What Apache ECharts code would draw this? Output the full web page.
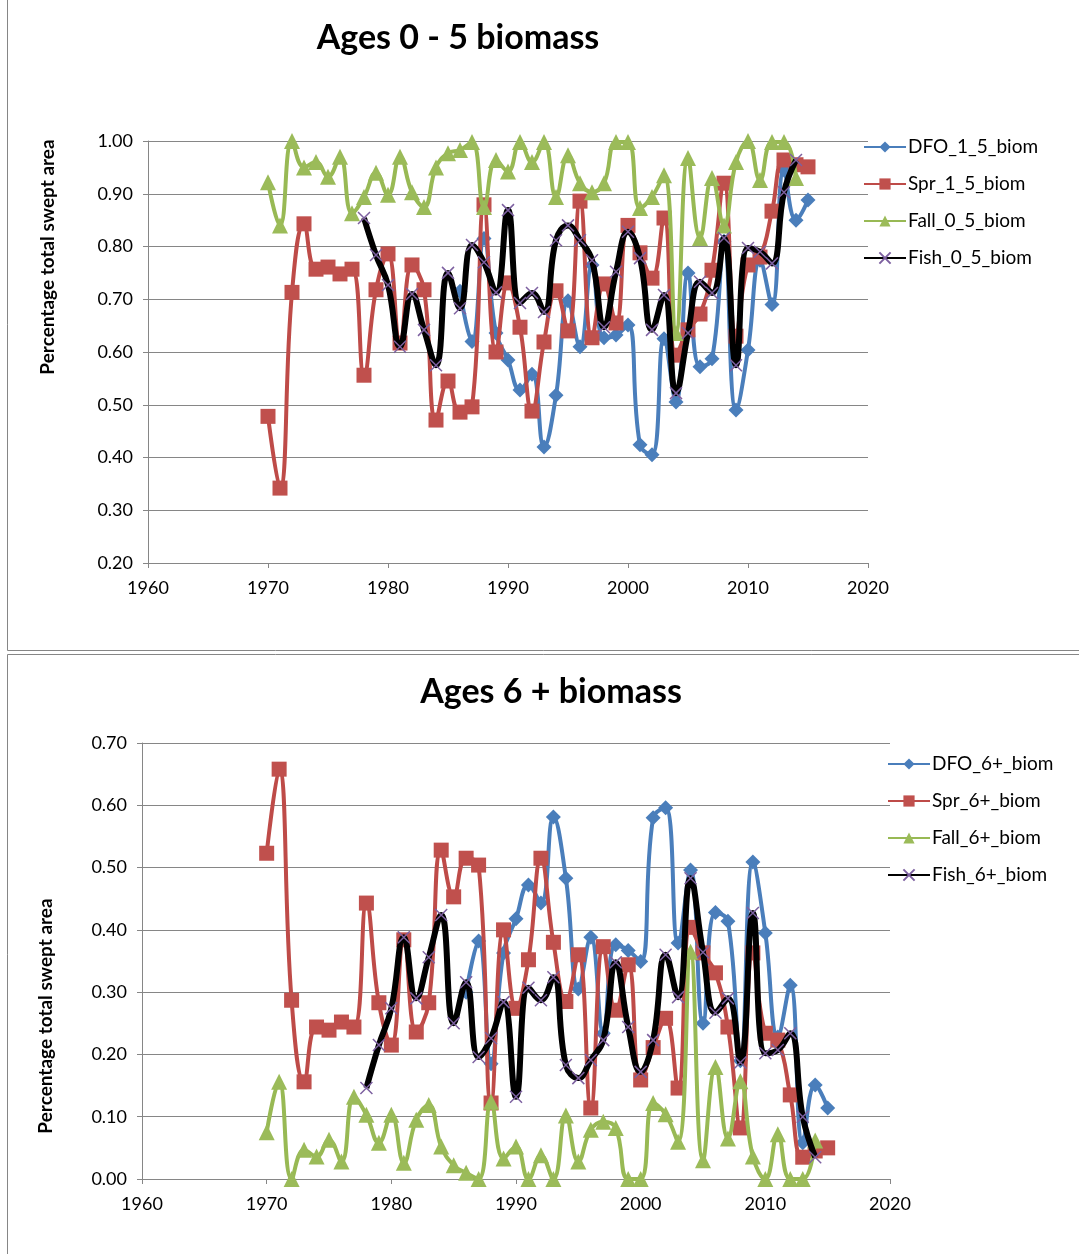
<!DOCTYPE html>
<html><head><meta charset="utf-8">
<script src="https://cdn.jsdelivr.net/npm/echarts@6/dist/echarts.min.js"></script>
<style>html,body{margin:0;padding:0;background:#fff}#c{width:1079px;height:1254px}</style>
</head><body><div id="c"></div>
<script>
const years = [];
for (let y = 1970; y <= 2015; y++) years.push(y);
const xTicks = [1960, 1970, 1980, 1990, 2000, 2010, 2020];

// Top chart: Ages 0 - 5 biomass
const dfo_1_5 = [null,null,null,null,null,null,null,null,null,null,
  null,null,null,null,null,null,0.715,0.62,0.815,0.636,
  0.585,0.528,0.558,0.42,0.518,0.697,0.61,0.765,0.627,0.632,
  0.651,0.424,0.405,0.625,0.505,0.75,0.572,0.587,0.81,0.49,
  0.604,0.774,0.69,0.945,0.85,0.888];
const spr_1_5 = [0.478,0.342,0.713,0.843,0.757,0.761,0.748,0.757,0.556,0.718,
  0.786,0.617,0.765,0.718,0.471,0.545,0.486,0.496,0.879,0.60,
  0.731,0.647,0.488,0.619,0.716,0.64,0.886,0.627,0.729,0.655,
  0.84,0.788,0.74,0.854,0.594,0.642,0.672,0.755,0.92,0.63,
  0.765,0.78,0.867,0.964,0.955,0.951];
const fall_0_5 = [0.922,0.84,1.0,0.95,0.96,0.932,0.97,0.863,0.894,0.94,
  0.898,0.97,0.903,0.875,0.95,0.977,0.983,0.998,0.875,0.964,
  0.942,0.998,0.96,0.998,0.894,0.973,0.92,0.903,0.92,0.998,
  0.998,0.873,0.894,0.935,0.636,0.968,0.816,0.93,0.84,0.96,
  1.0,0.926,0.998,0.998,0.93,null];
const fish_0_5 = [null,null,null,null,null,null,null,null,0.854,0.784,
  0.727,0.61,0.71,0.642,0.575,0.75,0.683,0.803,0.77,0.713,
  0.869,0.693,0.712,0.676,0.812,0.84,0.812,0.774,0.647,0.752,
  0.828,0.778,0.642,0.708,0.522,0.636,0.733,0.712,0.816,0.575,
  0.797,0.79,0.768,0.903,0.964,null];

// Bottom chart: Ages 6 + biomass
const dfo_6 = [null,null,null,null,null,null,null,null,null,null,
  null,null,null,null,null,null,0.30,0.382,0.185,0.363,
  0.418,0.472,0.443,0.581,0.483,0.305,0.388,0.234,0.376,0.367,
  0.349,0.58,0.596,0.379,0.496,0.25,0.428,0.414,0.19,0.509,
  0.395,0.228,0.311,0.058,0.151,0.114];
const spr_6 = [0.523,0.658,0.287,0.156,0.244,0.239,0.252,0.244,0.443,0.283,
  0.215,0.384,0.236,0.283,0.528,0.453,0.515,0.504,0.122,0.40,
  0.274,0.352,0.515,0.38,0.285,0.36,0.114,0.373,0.271,0.344,
  0.159,0.211,0.258,0.146,0.404,0.363,0.331,0.244,0.082,0.363,
  0.234,0.223,0.135,0.035,0.045,0.05];
const fall_6 = [0.075,0.156,0.0,0.047,0.036,0.063,0.028,0.132,0.103,0.058,
  0.103,0.026,0.095,0.119,0.052,0.022,0.01,0.0,0.124,0.033,
  0.052,0.0,0.038,0.0,0.102,0.028,0.079,0.092,0.082,0.0,
  0.0,0.122,0.104,0.06,0.365,0.03,0.18,0.065,0.157,0.036,
  0.0,0.072,0.0,0.0,0.062,null];
const fish_6 = [null,null,null,null,null,null,null,null,0.146,0.215,
  0.274,0.388,0.29,0.356,0.424,0.25,0.316,0.196,0.226,0.284,
  0.132,0.307,0.287,0.324,0.183,0.162,0.191,0.223,0.348,0.244,
  0.172,0.223,0.36,0.292,0.483,0.364,0.267,0.29,0.187,0.427,
  0.202,0.207,0.234,0.1,0.035,null];

const FONT = 'Lato';
const pairs = v => years.map((y, i) => [y, v[i]]).filter(p => p[1] !== null);
const CROSS = 'path://M0,0L10,10M10,0L0,10';

function mk(name, vals, idx, kind) {
  const base = {
    name, type: 'line', xAxisIndex: idx, yAxisIndex: idx,
    data: pairs(vals), smooth: 0.45, connectNulls: false,
  };
  if (kind === 'dfo') Object.assign(base, {
    symbol: 'diamond', symbolSize: 15,
    itemStyle: {color: '#4A7EBB'}, lineStyle: {color: '#4A7EBB', width: 4}, z: 2});
  if (kind === 'spr') Object.assign(base, {
    symbol: 'rect', symbolSize: 15,
    itemStyle: {color: '#C0504D'}, lineStyle: {color: '#BE4B48', width: 4}, z: 3});
  if (kind === 'fall') Object.assign(base, {
    symbol: 'triangle', symbolSize: 16,
    itemStyle: {color: '#9BBB59'}, lineStyle: {color: '#98B954', width: 4}, z: 4});
  if (kind === 'fish') Object.assign(base, {
    symbol: CROSS, symbolSize: 12,
    itemStyle: {color: 'rgba(0,0,0,0)', borderColor: '#7D60A0', borderWidth: 1.5},
    lineStyle: {color: '#000000', width: 6}, z: 5});
  return base;
}

function xAx(idx) {
  return {type: 'value', gridIndex: idx, min: 1960, max: 2020, interval: 10,
    axisLine: {show: true, onZero: false, lineStyle: {color: '#868686', width: 1}},
    axisTick: {show: true, length: 5, inside: false, lineStyle: {color: '#868686'}},
    axisLabel: {color: '#000', fontSize: 18, fontFamily: FONT, margin: 16,
      formatter: v => String(v)},
    splitLine: {show: false}};
}
function yAx(idx, min, max) {
  return {type: 'value', gridIndex: idx, min, max, interval: 0.1,
    axisLine: {show: true, lineStyle: {color: '#868686', width: 1}},
    axisTick: {show: true, length: 5, lineStyle: {color: '#868686'}},
    axisLabel: {color: '#000', fontSize: 18, fontFamily: FONT, margin: 15,
      formatter: v => v.toFixed(2)},
    splitLine: {show: true, lineStyle: {color: '#868686', width: 1}}};
}

const legendText = {fontSize: 19, color: '#000', fontFamily: FONT, lineHeight: 22, padding: [0, 0, 0, -3]};

const chart = echarts.init(document.getElementById('c'), null, {renderer: 'canvas'});
chart.setOption({
  animation: false,
  backgroundColor: '#fff',
  textStyle: {fontFamily: FONT},
  title: [
    {text: 'Ages 0 - 5 biomass', left: 453, top: 16, textAlign: 'center',
      textStyle: {fontSize: 34, fontWeight: 'bold', color: '#000', fontFamily: FONT}},
    {text: 'Ages 6 + biomass', left: 546, top: 670, textAlign: 'center',
      textStyle: {fontSize: 34, fontWeight: 'bold', color: '#000', fontFamily: FONT}}
  ],
  legend: [
    {orient: 'vertical', left: 858, top: 131, itemWidth: 42, itemHeight: 14, itemGap: 15,
      textStyle: legendText,
      data: ['DFO_1_5_biom', 'Spr_1_5_biom', 'Fall_0_5_biom', 'Fish_0_5_biom']},
    {orient: 'vertical', left: 882, top: 748, itemWidth: 42, itemHeight: 14, itemGap: 15,
      textStyle: legendText,
      data: ['DFO_6+_biom', 'Spr_6+_biom', 'Fall_6+_biom', 'Fish_6+_biom']}
  ],
  grid: [
    {left: 148, right: 211, top: 141, bottom: 691, containLabel: false},
    {left: 142, right: 189, top: 743, bottom: 75, containLabel: false}
  ],
  xAxis: [xAx(0), xAx(1)],
  yAxis: [yAx(0, 0.2, 1.0), yAx(1, 0, 0.7)],
  graphic: [
    {type: 'rect', shape: {x: 7.5, y: -2, width: 1080, height: 652.5},
      style: {fill: 'none', stroke: '#868686', lineWidth: 1}, silent: true, z: -1},
    {type: 'rect', shape: {x: 7.5, y: 654.5, width: 1080, height: 610},
      style: {fill: 'none', stroke: '#868686', lineWidth: 1}, silent: true, z: -1},
    {type: 'text', x: 48, y: 257, rotation: Math.PI / 2,
      style: {text: 'Percentage total swept area', font: 'bold 19px ' + FONT, fill: '#000',
        textAlign: 'center', textVerticalAlign: 'middle'}},
    {type: 'text', x: 46, y: 1016, rotation: Math.PI / 2,
      style: {text: 'Percentage total swept area', font: 'bold 19px ' + FONT, fill: '#000',
        textAlign: 'center', textVerticalAlign: 'middle'}}
  ],
  series: [
    mk('DFO_1_5_biom', dfo_1_5, 0, 'dfo'),
    mk('Spr_1_5_biom', spr_1_5, 0, 'spr'),
    mk('Fall_0_5_biom', fall_0_5, 0, 'fall'),
    mk('Fish_0_5_biom', fish_0_5, 0, 'fish'),
    mk('DFO_6+_biom', dfo_6, 1, 'dfo'),
    mk('Spr_6+_biom', spr_6, 1, 'spr'),
    mk('Fall_6+_biom', fall_6, 1, 'fall'),
    mk('Fish_6+_biom', fish_6, 1, 'fish')
  ]
});
</script></body></html>
